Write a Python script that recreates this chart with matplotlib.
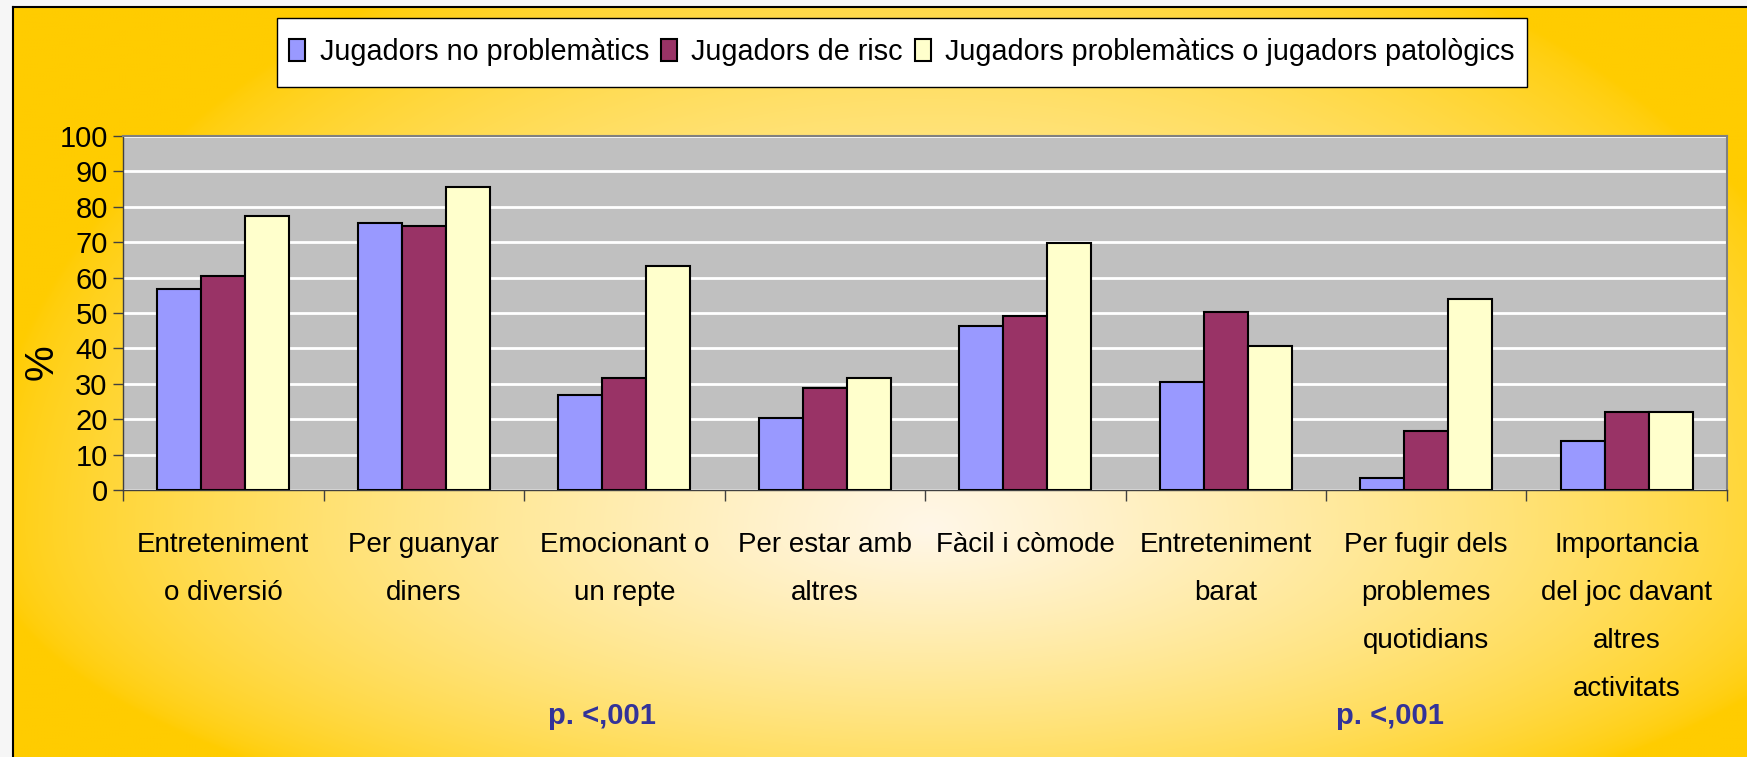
import numpy as np
import matplotlib.pyplot as plt
from matplotlib.colors import to_rgb
from matplotlib.patches import Rectangle

plt.rcParams['font.family'] = ['Liberation Sans', 'DejaVu Sans']

categories = ['Entreteniment\no diversió', 'Per guanyar\ndiners', 'Emocionant o\nun repte',
              'Per estar amb\naltres', 'Fàcil i còmode', 'Entreteniment\nbarat',
              'Per fugir dels\nproblemes\nquotidians', 'Importancia\ndel joc davant\naltres\nactivitats']
series_names = ['Jugadors no problemàtics', 'Jugadors de risc',
                'Jugadors problemàtics o jugadors patològics']
no_problem = [56.7, 75.3, 26.7, 20.4, 46.3, 30.5, 3.5, 13.8]
risc = [60.5, 74.6, 31.6, 28.7, 49.2, 50.2, 16.6, 22.1]
problematic = [77.4, 85.7, 63.4, 31.5, 69.9, 40.8, 54.0, 22.1]
colors = ['#9999FF', '#993366', '#FFFFCC']

W, H = 1747, 757
fig = plt.figure(figsize=(W / 100, H / 100), dpi=100, facecolor='#F6F6F6')

# background panel with radial gold gradient
x0, ytop = 13, 7
bg = fig.add_axes([x0 / W, 0, 1 - x0 / W, 1 - ytop / H])
yy, xx = np.mgrid[0:H:3, 0:W:3].astype(float)
cx, cy = 930, 530
ry = np.where(yy < cy, 650.0, 330.0)
r = np.sqrt(((xx - cx) / 950) ** 2 + ((yy - cy) / ry) ** 2)
t = np.clip(1 - r, 0, 1) ** 0.7
gold = np.array(to_rgb('#FFCC00'))
cream = np.array(to_rgb('#FFF7E8'))
img = gold * (1 - t)[..., None] + cream * t[..., None]
bg.imshow(img, extent=(0, W, H, 0), aspect='auto', interpolation='bilinear')
bg.set_xlim(x0, W)
bg.set_ylim(H, ytop)
bg.set_xticks([])
bg.set_yticks([])
for s in ['right', 'bottom']:
    bg.spines[s].set_visible(False)
for s in ['left', 'top']:
    bg.spines[s].set_linewidth(1.5)
    bg.spines[s].set_color('black')

# main chart
ax = fig.add_axes([123 / W, 1 - 490 / H, (1727 - 123) / W, (490 - 136) / H])
ax.set_facecolor('#C0C0C0')
x = np.arange(len(categories))
w = 0.22
for i, vals in enumerate([no_problem, risc, problematic]):
    ax.bar(x + (i - 1) * w, vals, w, color=colors[i], edgecolor='black',
           linewidth=1.5, label=series_names[i], zorder=3)

ax.set_xlim(-0.5, len(categories) - 0.5)
ax.set_ylim(0, 100)
ax.set_yticks(range(0, 101, 10))
ax.yaxis.grid(True, color='white', linewidth=2, zorder=1)
ax.set_axisbelow(True)

ax.set_xticks(np.arange(-0.5, len(categories), 1))
ax.set_xticklabels([])
ax.set_xticks(x, minor=True)
ax.set_xticklabels(categories, minor=True, fontsize=20, linespacing=2.1)
ax.tick_params(axis='x', which='minor', length=0, pad=30)
ax.tick_params(axis='x', which='major', length=8, width=1, color='#404040')
ax.tick_params(axis='y', length=7, width=1, pad=4, labelsize=21, color='#404040')

for s in ['left', 'bottom']:
    ax.spines[s].set_color('#404040')
    ax.spines[s].set_linewidth(1)
for s in ['top', 'right']:
    ax.spines[s].set_color('#808080')
    ax.spines[s].set_linewidth(1.5)

fig.text(42 / W, 1 - 362 / H, '%', rotation=90, fontsize=29, ha='center', va='center')

# legend box
fig.patches.append(Rectangle((277 / W, 1 - 87 / H), (1527 - 277) / W, (87 - 18) / H,
                             transform=fig.transFigure, facecolor='white',
                             edgecolor='black', linewidth=1, zorder=5))
handles, labels = ax.get_legend_handles_labels()
leg = fig.legend(handles, labels, loc='center', bbox_to_anchor=(902 / W, 1 - 52 / H),
                 ncol=3, fontsize=20.7, frameon=False, handlelength=0.55, handleheight=0.75,
                 handletextpad=0.5, columnspacing=0.42, borderpad=0, borderaxespad=0)
leg.set_zorder(6)

for px in [602, 1390]:
    fig.text(px / W, 1 - 716 / H, 'p. <,001', fontsize=21, fontweight='bold',
             color='#333399', ha='center', va='center')

fig.savefig('out.png', dpi=100, facecolor=fig.get_facecolor())
